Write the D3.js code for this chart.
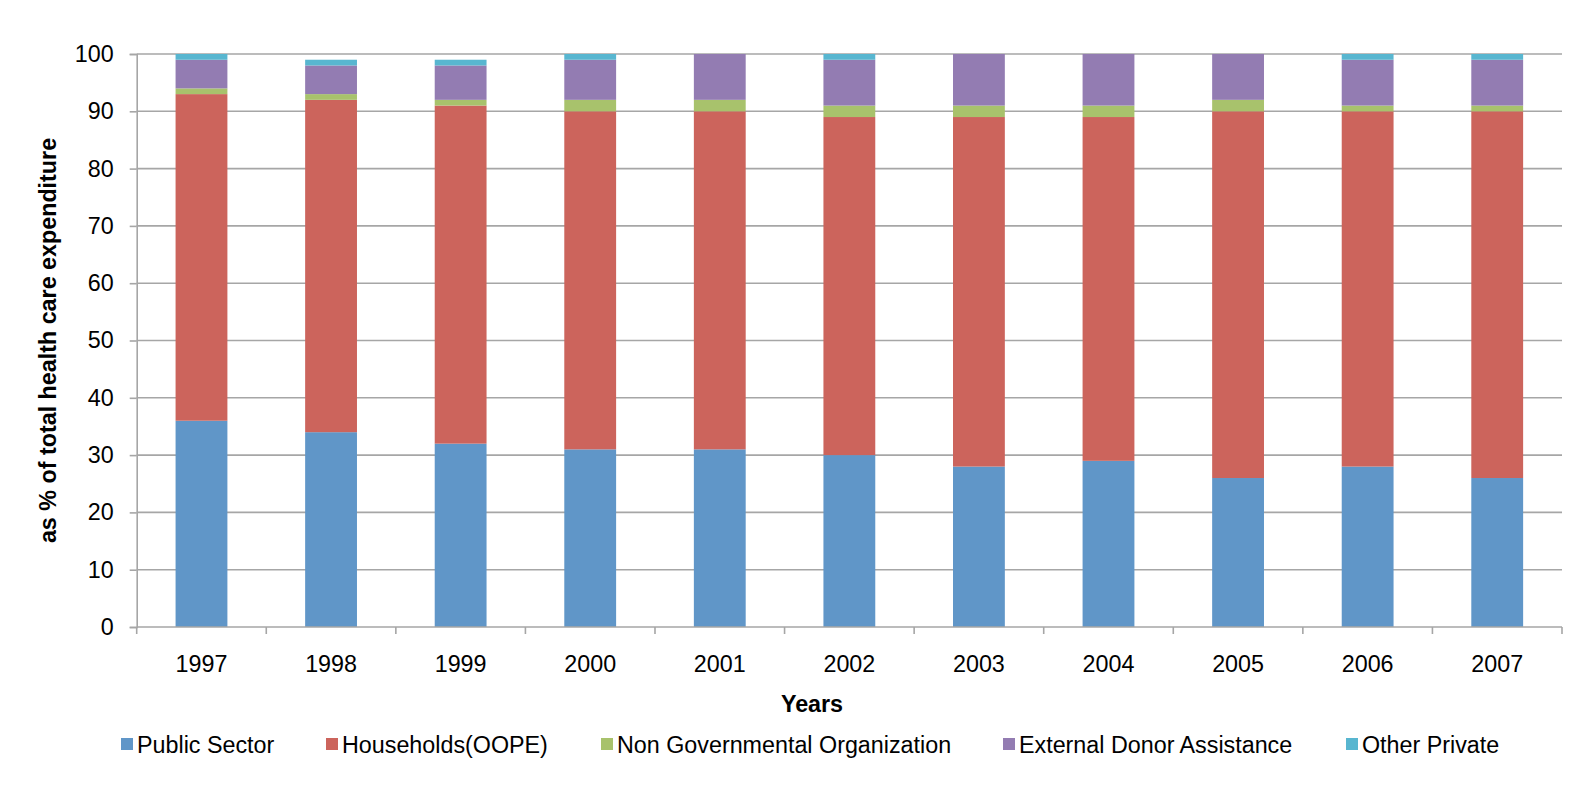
<!DOCTYPE html>
<html>
<head>
<meta charset="utf-8">
<script src="https://cdn.jsdelivr.net/npm/d3@7"></script>
<style>
  body { margin: 0; background: #fff; }
  svg text { font-family: "Liberation Sans", Arial, sans-serif; fill: #000; }
</style>
</head>
<body>
<script>
// Data
const years = ['1997', '1998', '1999', '2000', '2001', '2002', '2003', '2004', '2005', '2006', '2007'];
const seriesNames = ['Public Sector', 'Households(OOPE)', 'Non Governmental Organization', 'External Donor Assistance', 'Other Private'];
const publicSector = [36, 34, 32, 31, 31, 30, 28, 29, 26, 28, 26];
const households = [57, 58, 59, 59, 59, 59, 61, 60, 64, 62, 64];
const ngo = [1, 1, 1, 2, 2, 2, 2, 2, 2, 1, 1];
const donor = [5, 5, 6, 7, 8, 8, 9, 9, 8, 8, 8];
const otherPrivate = [1, 1, 1, 1, 0, 1, 0, 0, 0, 1, 1];
const yTicks = [0, 10, 20, 30, 40, 50, 60, 70, 80, 90, 100];
const colors = ['#6096c8', '#cc645c', '#a8c26c', '#937cb2', '#58b6d0'];

const seriesValues = [publicSector, households, ngo, donor, otherPrivate];
const table = years.map((yr, i) => {
    const row = { year: yr };
    seriesNames.forEach((name, s) => { row[name] = seriesValues[s][i]; });
    return row;
});

const width = 1595, height = 800;
const margin = { top: 54, right: 33, bottom: 173, left: 136.7 };
const fontSize = '23.3px';

const svg = d3.select('body').append('svg').attr('width', width).attr('height', height);

const x = d3.scaleBand()
    .domain(years)
    .range([margin.left, width - margin.right])
    .paddingInner(0.6)
    .paddingOuter(0.3);
const y = d3.scaleLinear().domain([0, 100]).range([height - margin.bottom, margin.top]);

// Gridlines
svg.append('g')
    .selectAll('line')
    .data(yTicks.filter(d => d > 0))
    .join('line')
    .attr('x1', margin.left)
    .attr('x2', width - margin.right)
    .attr('y1', d => y(d))
    .attr('y2', d => y(d))
    .attr('stroke', '#a6a6a6')
    .attr('stroke-width', 1.6);

// Stacked bars
const stack = d3.stack().keys(seriesNames);
const layers = stack(table);

svg.append('g')
    .selectAll('g')
    .data(layers)
    .join('g')
    .attr('fill', (d, i) => colors[i])
    .selectAll('rect')
    .data(d => d)
    .join('rect')
    .attr('x', d => x(d.data.year))
    .attr('width', x.bandwidth())
    .attr('y', d => y(d[1]))
    .attr('height', d => y(d[0]) - y(d[1]));

// Y axis
const yAxis = svg.append('g')
    .attr('transform', `translate(${margin.left},0)`)
    .call(d3.axisLeft(y).tickValues(yTicks).tickSize(7).tickPadding(16));
yAxis.select('.domain').attr('stroke', '#a6a6a6').attr('stroke-width', 1.6);
yAxis.selectAll('.tick line').attr('stroke', '#a6a6a6').attr('stroke-width', 1.6);
yAxis.selectAll('.tick text')
    .style('font-size', fontSize)
    .style('font-family', '"Liberation Sans", Arial, sans-serif');

// X axis: ticks sit between categories
const xAxisG = svg.append('g').attr('transform', `translate(0,${y(0)})`);
xAxisG.append('line')
    .attr('x1', margin.left)
    .attr('x2', width - margin.right)
    .attr('stroke', '#a6a6a6')
    .attr('stroke-width', 1.6);
const step = x.step();
const edges = years.map(yr => x(yr) - (step - x.bandwidth()) / 2).concat([width - margin.right]);
xAxisG.selectAll('.sep')
    .data(edges)
    .join('line')
    .attr('class', 'sep')
    .attr('x1', d => d)
    .attr('x2', d => d)
    .attr('y1', 0)
    .attr('y2', 7)
    .attr('stroke', '#a6a6a6')
    .attr('stroke-width', 1.6);
xAxisG.selectAll('.lab')
    .data(years)
    .join('text')
    .attr('class', 'lab')
    .attr('x', d => x(d) + x.bandwidth() / 2)
    .attr('y', 45)
    .attr('text-anchor', 'middle')
    .style('font-size', fontSize)
    .text(d => d);

// Axis titles
svg.append('text')
    .attr('x', 812)
    .attr('y', 712)
    .attr('text-anchor', 'middle')
    .style('font-size', fontSize)
    .style('font-weight', 'bold')
    .text('Years');

svg.append('text')
    .attr('transform', `translate(56,${(y(0) + y(100)) / 2}) rotate(-90)`)
    .attr('text-anchor', 'middle')
    .style('font-size', fontSize)
    .style('font-weight', 'bold')
    .text('as % of total health care expenditure');

// Legend
const legendX = [121, 326, 601, 1003, 1346];
const legend = svg.append('g').attr('transform', 'translate(0,744)');
const item = legend.selectAll('g')
    .data(seriesNames)
    .join('g')
    .attr('transform', (d, i) => `translate(${legendX[i]},0)`);
item.append('rect')
    .attr('x', 0)
    .attr('y', -6)
    .attr('width', 12)
    .attr('height', 12)
    .attr('fill', (d, i) => colors[i]);
item.append('text')
    .attr('x', 16)
    .attr('y', 9)
    .style('font-size', fontSize)
    .text(d => d);
</script>
</body>
</html>
